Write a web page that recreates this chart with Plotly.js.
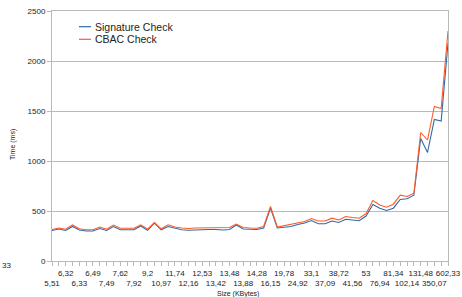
<!DOCTYPE html>
<html>
<head>
<meta charset="utf-8">
<script src="https://cdn.plot.ly/plotly-3.0.1.min.js"></script>
<style>html,body{margin:0;padding:0;background:#fff;}#chart{width:462px;height:297px;}</style>
</head>
<body>
<div id="chart"></div>
<script>
// Size labels shown under every second point (KBytes)
const sizeLabels = ['5,51','6,32','6,33','6,49','7,49','7,62','7,92','9,2','10,97','11,74','12,16','12,53','13,42','13,48','13,88','14,28','16,15','19,78','24,92','33,1','37,09','38,72','41,56','53','76,94','81,34','102,14','131,48','350,07','602,33'];

// Time (ms) per point
const signatureCheck = [305,320,305,345,310,300,300,325,305,345,312,312,312,350,308,380,312,345,325,312,308,312,312,315,315,310,315,360,320,318,315,330,530,330,340,345,365,380,405,372,372,400,385,418,410,402,450,565,528,505,528,615,622,658,1225,1085,1415,1400,2180];
const cbacCheck = [315,330,318,360,322,312,312,340,318,360,328,328,328,362,318,385,322,362,340,330,325,330,330,335,335,335,335,370,335,330,328,345,545,340,355,365,385,395,425,400,400,428,410,445,435,428,475,605,560,538,568,658,645,678,1285,1210,1545,1525,2300];

const seriesNames = ['Signature Check', 'CBAC Check'];
const colors = ['#2f6aa8', '#ff5a2a'];

const idx = signatureCheck.map((_, i) => i);
const tickvals = idx;
const ticktext = idx.map(i => {
  if (i % 2) return '';
  const lab = sizeLabels[i / 2];
  return (i % 4 === 0) ? ' <br>' + lab : lab;
});

const traces = [signatureCheck, cbacCheck].map((ys, k) => ({
  x: idx, y: ys, type: 'scatter', mode: 'lines', name: seriesNames[k],
  line: {color: colors[k], width: 1.1}, showlegend: false, hoverinfo: 'skip'
}));

const grid = '#b9b9b9';
const W = 396, H = 250, L = 52, T = 11;
const px = x => (x - L) / W;
const py = y => (T + H - y) / H;

const layout = {
  width: 462, height: 297,
  margin: {l: 52, r: 14, t: 11, b: 36},
  paper_bgcolor: '#fff', plot_bgcolor: '#fff',
  font: {family: 'Liberation Sans, Arial, sans-serif', color: '#222', size: 8},
  xaxis: {
    range: [0, idx.length - 1], tickmode: 'array', tickvals: tickvals, ticktext: ticktext,
    ticks: 'outside', ticklen: 4, tickcolor: grid, tickwidth: 1,
    showgrid: false, zeroline: false, showline: true, linecolor: grid, linewidth: 1, mirror: true,
    tickangle: 0, tickfont: {size: 8, color: '#222'}
  },
  yaxis: {
    range: [0, 2500], dtick: 500, tick0: 0,
    ticks: 'outside', ticklen: 4, tickcolor: grid,
    showgrid: true, gridcolor: grid, gridwidth: 1, zeroline: false,
    showline: true, linecolor: grid, linewidth: 1, mirror: true,
    tickfont: {size: 8, color: '#222'}
  },
  shapes: [
    {type: 'line', xref: 'paper', yref: 'paper', x0: px(79), x1: px(91), y0: py(26.7), y1: py(26.7), line: {color: colors[0], width: 1.2}},
    {type: 'line', xref: 'paper', yref: 'paper', x0: px(79), x1: px(91), y0: py(39.3), y1: py(39.3), line: {color: colors[1], width: 1.2}}
  ],
  annotations: [
    {xref: 'paper', yref: 'paper', x: px(93), y: py(26.7), xanchor: 'left', yanchor: 'middle', text: seriesNames[0], showarrow: false, font: {size: 10.5, color: '#222'}},
    {xref: 'paper', yref: 'paper', x: px(93), y: py(39.3), xanchor: 'left', yanchor: 'middle', text: seriesNames[1], showarrow: false, font: {size: 10.5, color: '#222'}},
    {xref: 'paper', yref: 'paper', x: px(13), y: py(145), xanchor: 'center', yanchor: 'middle', text: 'Time (ms)', textangle: -90, showarrow: false, font: {size: 7, color: '#222'}},
    {xref: 'paper', yref: 'paper', x: px(238), y: py(287.5), xanchor: 'center', yanchor: 'top', text: 'Size (KBytes)', showarrow: false, font: {size: 7, color: '#222'}},
    {xref: 'paper', yref: 'paper', x: px(0), y: py(265.5), xanchor: 'left', yanchor: 'middle', text: '33', showarrow: false, font: {size: 8, color: '#222'}}
  ]
};

Plotly.newPlot('chart', traces, layout, {displayModeBar: false, staticPlot: true});
</script>
</body>
</html>
